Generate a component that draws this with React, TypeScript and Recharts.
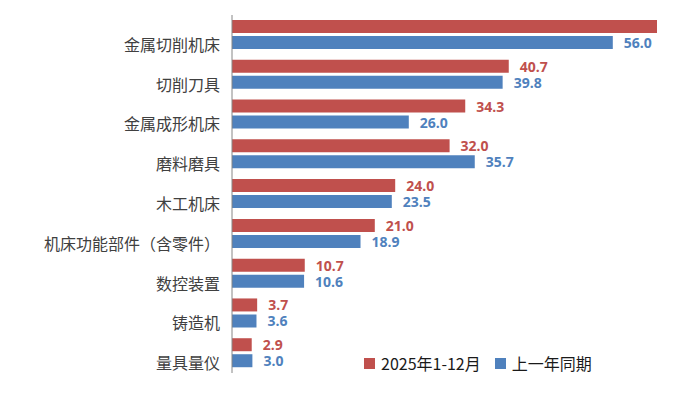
import { Bar, BarChart, LabelList, Legend, XAxis, YAxis } from "recharts";

const categories = [
  "金属切削机床",
  "切削刀具",
  "金属成形机床",
  "磨料磨具",
  "木工机床",
  "机床功能部件（含零件）",
  "数控装置",
  "铸造机",
  "量具量仪",
];
const current = [62.5, 40.7, 34.3, 32.0, 24.0, 21.0, 10.7, 3.7, 2.9];
const lastYear = [56.0, 39.8, 26.0, 35.7, 23.5, 18.9, 10.6, 3.6, 3.0];
const seriesNames = ["2025年1-12月", "上一年同期"];

const W = 685;
const H = 393;
const redFill = "#C0504D";
const blueFill = "#4F81BD";
const cjk = '"Noto Sans CJK SC", "Noto Sans", sans-serif';

const data = categories.map((name, i) => ({ name, current: current[i], lastYear: lastYear[i] }));

function CategoryTick({ x, y, payload }: any) {
  return (
    <text x={x} y={y + 9} textAnchor="end" dominantBaseline="central" fill="#404040" fontSize={16} fontFamily={cjk}>
      {payload.value}
    </text>
  );
}

function valueLabel(color: string) {
  return (props: any) => {
    const { x, y, width, height, value } = props;
    const lx = Number(x) + Number(width) + 11;
    // Excel drops labels that would run past the chart edge
    if (lx + 30 > W) return null;
    return (
      <text
        x={lx}
        y={Number(y) + Number(height) / 2}
        dominantBaseline="central"
        fill={color}
        fontSize={14}
        fontWeight="bold"
        fontFamily='"Open Sans", sans-serif'
      >
        {Number(value).toFixed(1)}
      </text>
    );
  };
}

function LegendBox({ payload }: any) {
  return (
    <div style={{ display: "flex", alignItems: "center", fontFamily: cjk, fontSize: 16, color: "#1a1a1a", whiteSpace: "nowrap" }}>
      {(payload || []).map((p: any, i: number) => (
        <div key={i} style={{ display: "flex", alignItems: "center", marginRight: 14 }}>
          <span style={{ width: 11, height: 11, background: p.color, display: "inline-block", marginRight: 6 }} />
          <span>{p.value}</span>
        </div>
      ))}
    </div>
  );
}

export default function App() {
  return (
    <div style={{ position: "absolute", left: 0, top: 0, width: W, height: H, background: "#fff" }}>
      <BarChart
        width={W}
        height={H}
        data={data}
        layout="vertical"
        margin={{ top: 15, right: 11, bottom: 20, left: 0 }}
        barSize={13}
        barGap={3}
      >
        <XAxis type="number" hide domain={[0, 65]} allowDataOverflow />
        <YAxis
          type="category"
          dataKey="name"
          width={232}
          tick={<CategoryTick />}
          tickLine={false}
          tickSize={0}
          tickMargin={12}
          axisLine={{ stroke: "#868686" }}
          interval={0}
        />
        <Legend
          layout="horizontal"
          verticalAlign="middle"
          align="center"
          content={<LegendBox />}
          wrapperStyle={{ position: "absolute", left: 364, top: 351, width: "auto", height: 22 }}
        />
        <Bar dataKey="current" name={seriesNames[0]} fill={redFill} isAnimationActive={false}>
          <LabelList dataKey="current" content={valueLabel(redFill)} />
        </Bar>
        <Bar dataKey="lastYear" name={seriesNames[1]} fill={blueFill} isAnimationActive={false}>
          <LabelList dataKey="lastYear" content={valueLabel(blueFill)} />
        </Bar>
      </BarChart>
    </div>
  );
}
